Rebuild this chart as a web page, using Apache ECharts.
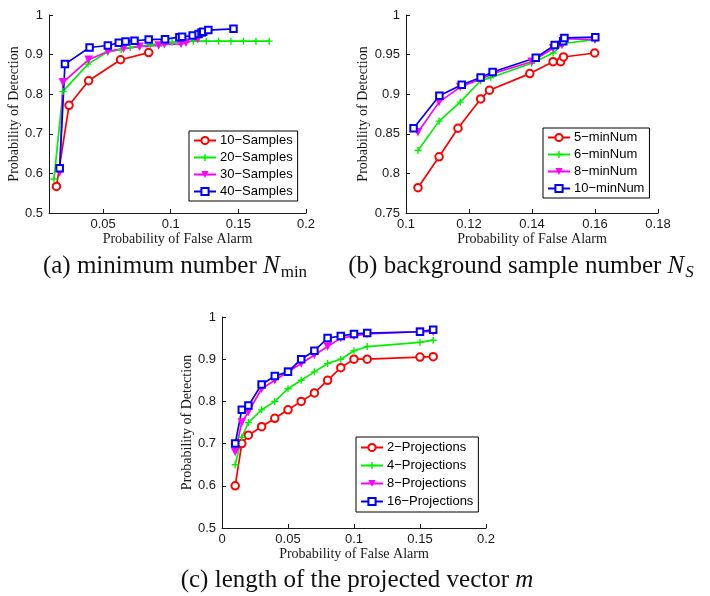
<!DOCTYPE html>
<html>
<head>
<meta charset="utf-8">
<script src="https://cdn.jsdelivr.net/npm/echarts@6/dist/echarts.min.js"></script>
<style>
  html, body { margin: 0; padding: 0; background: #fff; }
  #chart { width: 710px; height: 596px; }
</style>
</head>
<body>
<div id="chart"></div>
<script>
// (a) minimum number N_min  -- [Pfa, Pd]
var samples10 = [[0.0155,0.567],[0.0248,0.772],[0.0393,0.834],[0.0629,0.887],[0.0837,0.905]];
var samples20 = [[0.0137,0.586],[0.0203,0.807],[0.0388,0.876],[0.0535,0.907],[0.0634,0.913],[0.070,0.918],[0.077,0.921],
  [0.085,0.925],[0.093,0.928],[0.101,0.931],[0.109,0.933],[0.1167,0.934],[0.1263,0.934],[0.1354,0.934],[0.1445,0.934],
  [0.1538,0.934],[0.1630,0.934],[0.1728,0.934]];
var samples30 = [[0.0179,0.602],[0.0203,0.830],[0.0393,0.887],[0.0535,0.908],[0.0651,0.915],[0.0769,0.920],[0.0911,0.923],
  [0.0953,0.926],[0.1076,0.927],[0.1113,0.930],[0.120,0.939]];
var samples40 = [[0.0179,0.613],[0.0218,0.876],[0.040,0.918],[0.0535,0.923],[0.0616,0.930],[0.0666,0.933],[0.0732,0.935],
  [0.0837,0.938],[0.0958,0.939],[0.1064,0.944],[0.1084,0.945],[0.1162,0.948],[0.1206,0.952],[0.1228,0.956],[0.124,0.958],
  [0.1278,0.962],[0.1464,0.965]];

// (b) background sample number N_S
var minNum5 = [[0.1038,0.782],[0.1105,0.821],[0.1165,0.857],[0.1237,0.894],[0.1265,0.905],[0.1393,0.926],[0.1467,0.941],
  [0.1491,0.941],[0.150,0.947],[0.1599,0.952]];
var minNum6 = [[0.1038,0.829],[0.1105,0.866],[0.1172,0.890],[0.1237,0.917],[0.1269,0.921],[0.1399,0.939],[0.1467,0.952],
  [0.1499,0.964],[0.1599,0.969]];
var minNum8 = [[0.1038,0.852],[0.1105,0.890],[0.1172,0.909],[0.1237,0.919],[0.1275,0.926],[0.1399,0.941],[0.1467,0.958],
  [0.1495,0.962],[0.150,0.970],[0.160,0.969]];
var minNum10 = [[0.1024,0.857],[0.1106,0.898],[0.1177,0.912],[0.1237,0.921],[0.1275,0.928],[0.1412,0.946],[0.1472,0.962],
  [0.1499,0.967],[0.1503,0.971],[0.1601,0.972]];

// (c) length of the projected vector m
var projPfa = [0.01,0.015,0.02,0.03,0.04,0.05,0.06,0.07,0.08,0.09,0.1,0.11,0.15,0.16];
var proj2  = [0.6,0.7,0.72,0.74,0.76,0.78,0.8,0.82,0.85,0.88,0.9,0.9,0.905,0.906];
var proj4  = [0.65,0.715,0.75,0.78,0.8,0.83,0.85,0.87,0.89,0.9,0.92,0.93,0.94,0.945];
var proj8  = [0.68,0.75,0.775,0.83,0.85,0.87,0.89,0.91,0.93,0.95,0.955,0.96,0.965,0.965];
var proj16 = [0.7,0.78,0.79,0.84,0.86,0.87,0.9,0.92,0.95,0.955,0.96,0.962,0.965,0.97];

var namesA = ['10\u2212Samples','20\u2212Samples','30\u2212Samples','40\u2212Samples'];
var namesB = ['5\u2212minNum','6\u2212minNum','8\u2212minNum','10\u2212minNum'];
var namesC = ['2\u2212Projections','4\u2212Projections','8\u2212Projections','16\u2212Projections'];
var xTicksA = [0.05, 0.1, 0.15, 0.2];

var sansFont = 'Liberation Sans, Arial, sans-serif';
var serifFont = 'Liberation Serif, Times New Roman, serif';
var ink = '#1a1a1a';

var markers = [
  { symbol: 'emptyCircle', symbolSize: 7.5, color: '#ff0000', bw: 1.5 },
  { symbol: 'path://M4,0H6V4H10V6H6V10H4V6H0V4H4Z', symbolSize: 7, color: '#00f000', bw: 0 },
  { symbol: 'path://M0,0L10,0L5,9Z', symbolSize: 8.5, color: '#ff00ff', bw: 0 },
  { symbol: 'emptyRect', symbolSize: 6.5, color: '#0000ff', bw: 1.6 }
];

function zip(xs, ys) {
  return xs.map(function (x, i) { return [x, ys[i]]; });
}

function mk(name, data, k, idx) {
  var m = markers[k];
  return {
    name: name, type: 'line', xAxisIndex: idx, yAxisIndex: idx,
    data: data, symbol: m.symbol, symbolSize: m.symbolSize,
    lineStyle: { color: m.color, width: 1.7 },
    itemStyle: { color: m.color, borderColor: m.color, borderWidth: m.bw },
    emphasis: { disabled: true }
  };
}

function xAx(idx, min, max, interval, gap, extra) {
  var a = {
    type: 'value', gridIndex: idx, min: min, max: max, interval: interval,
    name: 'Probability of False Alarm', nameLocation: 'middle', nameGap: gap,
    nameTextStyle: { fontFamily: serifFont, fontSize: 14, color: ink },
    axisLine: { lineStyle: { color: ink, width: 1 } },
    axisTick: { inside: true, length: 4, lineStyle: { color: ink } },
    axisLabel: { fontFamily: sansFont, fontSize: 13, color: ink, margin: 5 },
    splitLine: { show: false }
  };
  if (extra) {
    a.axisTick.customValues = extra;
    a.axisLabel.customValues = extra;
  }
  return a;
}

function yAx(idx, min, max, interval, gap) {
  return {
    type: 'value', gridIndex: idx, min: min, max: max, interval: interval,
    name: 'Probability of Detection', nameLocation: 'middle', nameGap: gap, nameRotate: 90,
    nameTextStyle: { fontFamily: serifFont, fontSize: 14, color: ink },
    axisLine: { show: true, lineStyle: { color: ink, width: 1 } },
    axisTick: { show: true, inside: true, length: 4, lineStyle: { color: ink } },
    axisLabel: { fontFamily: sansFont, fontSize: 13, color: ink, margin: 6 },
    splitLine: { show: false }
  };
}

function lg(names, left, top, pad, gap) {
  return {
    data: names, orient: 'vertical', left: left, top: top,
    backgroundColor: '#fff', borderColor: '#000', borderWidth: 1, borderRadius: 0,
    padding: pad, itemGap: gap, itemWidth: 22, itemHeight: 9,
    textStyle: { fontFamily: sansFont, fontSize: 13, color: '#000', padding: [0, 0, 0, -1] },
    selectedMode: false
  };
}

function caption(cx, cy, text, rich) {
  return {
    type: 'text', x: cx, y: cy,
    style: { text: text, align: 'center', verticalAlign: 'middle', fill: '#111', rich: rich }
  };
}

var capRich = {
  r: { fontFamily: serifFont, fontSize: 25, fill: '#111' },
  i: { fontFamily: serifFont, fontSize: 25, fontStyle: 'italic', fill: '#111' },
  s: { fontFamily: serifFont, fontSize: 17, fill: '#111', padding: [14, 0, 0, 1] },
  si: { fontFamily: serifFont, fontSize: 17, fontStyle: 'italic', fill: '#111', padding: [14, 0, 0, 1] }
};

var chart = echarts.init(document.getElementById('chart'), null, { renderer: 'canvas' });

chart.setOption({
  animation: false,
  backgroundColor: '#fff',
  grid: [
    { left: 49, top: 15, width: 257, height: 198 },
    { left: 406, top: 15, width: 252, height: 198 },
    { left: 222, top: 317, width: 264, height: 211 }
  ],
  xAxis: [
    xAx(0, 0.01, 0.2, 0.05, 17, xTicksA),
    xAx(1, 0.1, 0.18, 0.02, 17),
    xAx(2, 0, 0.2, 0.05, 16)
  ],
  yAxis: [
    yAx(0, 0.5, 1, 0.1, 24),
    yAx(1, 0.75, 1, 0.05, 30),
    yAx(2, 0.5, 1, 0.1, 23)
  ],
  legend: [
    lg(namesA, 189, 131, [3, 5, 3, 4], 4),
    lg(namesB, 543, 128, [3, 5, 3, 4], 4),
    lg(namesC, 356, 437, [4, 5, 4, 4], 5)
  ],
  series: [
    mk(namesA[0], samples10, 0, 0),
    mk(namesA[1], samples20, 1, 0),
    mk(namesA[2], samples30, 2, 0),
    mk(namesA[3], samples40, 3, 0),
    mk(namesB[0], minNum5, 0, 1),
    mk(namesB[1], minNum6, 1, 1),
    mk(namesB[2], minNum8, 2, 1),
    mk(namesB[3], minNum10, 3, 1),
    mk(namesC[0], zip(projPfa, proj2), 0, 2),
    mk(namesC[1], zip(projPfa, proj4), 1, 2),
    mk(namesC[2], zip(projPfa, proj8), 2, 2),
    mk(namesC[3], zip(projPfa, proj16), 3, 2)
  ],
  graphic: [
    caption(175, 266, '{r|(a) minimum number }{i|N}{s|min}', capRich),
    caption(521, 266, '{r|(b) background sample number }{i|N}{si|S}', capRich),
    caption(357, 580, '{r|(c) length of the projected vector }{i|m}', capRich)
  ]
});
</script>
</body>
</html>
